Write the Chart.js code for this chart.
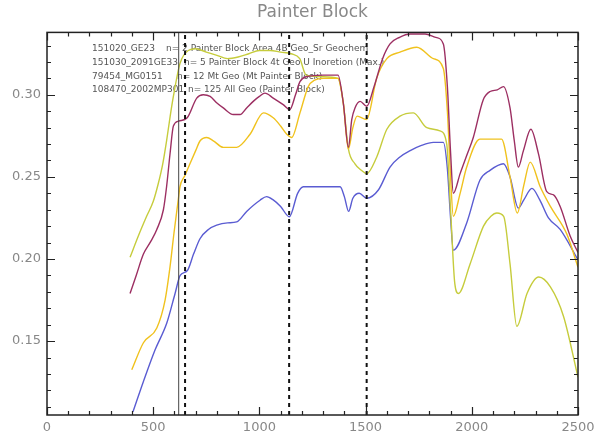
<!DOCTYPE html>
<html>
<head>
<meta charset="utf-8">
<title>Painter Block</title>
<script src="https://cdn.jsdelivr.net/npm/chart.js@4.4.1/dist/chart.umd.min.js"></script>
<style>
  html, body { margin: 0; padding: 0; background: #fff; }
  canvas { display: block; }
</style>
</head>
<body>
<canvas id="chart" width="600" height="439"></canvas>
<script>
// 軸
const xTicks = [0, 500, 1000, 1500, 2000, 2500];
const yTicks = [0.15, 0.20, 0.25, 0.30];
const xMin = 0, xMax = 2500;
const yMin = 0.105, yMax = 0.338;

// 縦線 (実線1本 + 破線3本)
const solidLines = [620];
const dashedLines = [650, 1140, 1505];

// 凡例テキスト
const legendIds = ["151020_GE23", "151030_2091GE33", "79454_MG0151", "108470_2002MP301"];
const legendNotes = [
  "n= 2 Painter Block Area 4B Geo_Sr Geochem",
  "n= 5 Painter Block 4t Geo U Inoretion (Max.)",
  "n= 12 Mt Geo (Mt Painter Block)",
  "n= 125 All Geo (Painter Block)"
];

// 系列: 赤紫
const maroonX = [391, 420, 454, 490, 517, 548, 563, 580, 595, 620, 660, 705, 736, 768, 800, 830, 877, 909, 940, 971, 1000, 1026, 1065, 1112, 1143, 1170, 1191, 1220, 1300, 1370, 1395, 1419, 1435, 1450, 1474, 1505, 1540, 1580, 1615, 1660, 1710, 1780, 1830, 1866, 1885, 1900, 1913, 1945, 1976, 2007, 2054, 2086, 2120, 2149, 2180, 2200, 2219, 2243, 2278, 2314, 2353, 2385, 2416, 2463, 2500];
const maroonY = [0.179, 0.190, 0.203, 0.211, 0.218, 0.230, 0.244, 0.265, 0.281, 0.284, 0.286, 0.298, 0.300, 0.299, 0.295, 0.292, 0.288, 0.288, 0.292, 0.296, 0.299, 0.301, 0.298, 0.294, 0.291, 0.300, 0.308, 0.311, 0.312, 0.312, 0.295, 0.268, 0.285, 0.292, 0.296, 0.293, 0.305, 0.322, 0.331, 0.335, 0.337, 0.337, 0.335, 0.331, 0.305, 0.265, 0.240, 0.252, 0.263, 0.274, 0.297, 0.302, 0.303, 0.305, 0.292, 0.272, 0.256, 0.266, 0.279, 0.264, 0.241, 0.239, 0.232, 0.214, 0.204];

// 系列: 黄緑
const greenX = [391, 430, 469, 500, 524, 545, 563, 580, 595, 626, 665, 700, 750, 800, 850, 900, 950, 1000, 1050, 1100, 1150, 1190, 1220, 1300, 1370, 1395, 1419, 1450, 1480, 1505, 1552, 1600, 1662, 1725, 1788, 1850, 1882, 1900, 1920, 1937, 1992, 2055, 2090, 2118, 2150, 2180, 2212, 2260, 2315, 2370, 2432, 2500];
const greenY = [0.201, 0.214, 0.226, 0.235, 0.246, 0.258, 0.272, 0.287, 0.299, 0.319, 0.327, 0.328, 0.326, 0.324, 0.322, 0.323, 0.325, 0.327, 0.327, 0.326, 0.325, 0.322, 0.312, 0.311, 0.310, 0.295, 0.267, 0.258, 0.254, 0.252, 0.262, 0.279, 0.287, 0.289, 0.280, 0.278, 0.270, 0.230, 0.185, 0.179, 0.197, 0.220, 0.226, 0.228, 0.226, 0.197, 0.159, 0.179, 0.189, 0.183, 0.165, 0.128];

// 系列: 金
const goldX = [399, 454, 517, 556, 579, 598, 618, 626, 650, 673, 700, 721, 752, 783, 830, 893, 956, 1019, 1065, 1100, 1129, 1152, 1191, 1230, 1260, 1300, 1370, 1395, 1419, 1440, 1460, 1505, 1552, 1600, 1662, 1741, 1819, 1866, 1885, 1900, 1913, 1945, 1976, 2038, 2086, 2140, 2180, 2214, 2245, 2275, 2322, 2370, 2448, 2500];
const goldY = [0.1325, 0.149, 0.158, 0.175, 0.195, 0.216, 0.236, 0.244, 0.251, 0.258, 0.266, 0.272, 0.274, 0.272, 0.268, 0.268, 0.276, 0.289, 0.286, 0.281, 0.276, 0.274, 0.289, 0.305, 0.309, 0.310, 0.310, 0.295, 0.267, 0.280, 0.287, 0.285, 0.310, 0.322, 0.326, 0.329, 0.322, 0.316, 0.290, 0.250, 0.226, 0.240, 0.256, 0.273, 0.273, 0.273, 0.250, 0.228, 0.245, 0.259, 0.244, 0.232, 0.215, 0.195];

// 系列: 青
const blueX = [405, 454, 509, 564, 603, 627, 661, 690, 721, 760, 799, 850, 893, 940, 1003, 1034, 1065, 1100, 1141, 1180, 1207, 1250, 1300, 1380, 1400, 1420, 1440, 1470, 1505, 1560, 1615, 1660, 1710, 1760, 1819, 1866, 1885, 1900, 1913, 1976, 2038, 2086, 2149, 2180, 2219, 2245, 2283, 2320, 2361, 2416, 2500];
const blueY = [0.107, 0.1254, 0.1447, 0.161, 0.179, 0.190, 0.193, 0.203, 0.2125, 0.218, 0.2206, 0.222, 0.2226, 0.229, 0.2358, 0.238, 0.236, 0.232, 0.2257, 0.240, 0.244, 0.244, 0.244, 0.244, 0.238, 0.229, 0.237, 0.240, 0.237, 0.242, 0.256, 0.262, 0.266, 0.269, 0.271, 0.271, 0.255, 0.225, 0.2054, 0.222, 0.248, 0.254, 0.258, 0.250, 0.231, 0.236, 0.243, 0.236, 0.225, 0.218, 0.1995];

const pts = (xs, ys) => xs.map((x, i) => ({ x, y: ys[i] }));

function curve(xs, ys, color) {
  return { data: pts(xs, ys), borderColor: color, borderWidth: 1.4, pointRadius: 0,
           cubicInterpolationMode: 'monotone', fill: false };
}
function vline(x, dashed) {
  return { data: [{ x, y: yMin }, { x, y: yMax }], borderColor: dashed ? '#111' : '#444',
           borderWidth: dashed ? 2 : 1, borderDash: dashed ? [4, 4] : [], pointRadius: 0 };
}

// 枠と内向き目盛り、凡例テキスト
const framePlugin = {
  id: 'frame',
  beforeDatasetsDraw(chart) {
    const ctx = chart.ctx;
    ctx.save();
    ctx.fillStyle = '#555';
    ctx.font = '9px "DejaVu Sans"';
    ctx.textBaseline = 'middle';
    const rows = [49, 63, 77, 90];
    const noteX = [166, 184, 177, 188];
    legendIds.forEach((id, i) => {
      ctx.fillText(id, 92, rows[i]);
      ctx.fillText(legendNotes[i], noteX[i], rows[i]);
    });
    ctx.restore();
  },
  afterDatasetsDraw(chart) {
    const { ctx, chartArea: a, scales: { x, y } } = chart;
    ctx.save();
    ctx.strokeStyle = '#222';
    ctx.lineWidth = 1.5;
    ctx.strokeRect(a.left, a.top, a.right - a.left, a.bottom - a.top);
    ctx.lineWidth = 1.2;
    ctx.beginPath();
    for (let v = xMin; v <= xMax; v += 100) {
      const px = Math.round(x.getPixelForValue(v)) + 0.5;
      const len = v % 500 === 0 ? 8 : 4;
      ctx.moveTo(px, a.bottom); ctx.lineTo(px, a.bottom - len);
      ctx.moveTo(px, a.top); ctx.lineTo(px, a.top + len);
    }
    for (let k = 11; k <= 33; k++) {
      const py = Math.round(y.getPixelForValue(k / 100)) + 0.5;
      const len = k % 5 === 0 ? 8 : 4;
      ctx.moveTo(a.left, py); ctx.lineTo(a.left + len, py);
      ctx.moveTo(a.right, py); ctx.lineTo(a.right - len, py);
    }
    ctx.stroke();
    ctx.restore();
  }
};

const tickFont = { family: 'DejaVu Sans', size: 13 };

new Chart(document.getElementById('chart'), {
  type: 'line',
  data: {
    datasets: [
      ...solidLines.map(v => vline(v, false)),
      ...dashedLines.map(v => vline(v, true)),
      curve(maroonX, maroonY, '#9c2f62'),
      curve(goldX, goldY, '#f0c21e'),
      curve(greenX, greenY, '#c6cc3c'),
      curve(blueX, blueY, '#5a5cd2')
    ]
  },
  options: {
    responsive: false,
    animation: false,
    layout: { padding: { left: 0, right: 22, top: 0, bottom: 0 } },
    plugins: {
      legend: { display: false },
      tooltip: { enabled: false },
      title: {
        display: true, text: 'Painter Block', fullSize: false, color: '#888',
        font: { family: 'DejaVu Sans', size: 17, weight: 'normal' },
        padding: { top: 2, bottom: 10 }
      }
    },
    scales: {
      x: {
        type: 'linear', min: xMin, max: xMax,
        afterBuildTicks: s => { s.ticks = xTicks.map(v => ({ value: v })); },
        afterFit: s => { s.height = 24; },
        grid: { display: false, drawTicks: false },
        border: { display: false },
        ticks: { color: '#888', font: tickFont, padding: 5, maxRotation: 0, autoSkip: false,
                 callback: v => String(v) }
      },
      y: {
        type: 'linear', min: yMin, max: yMax,
        afterBuildTicks: s => { s.ticks = yTicks.map(v => ({ value: v })); },
        afterFit: s => { s.width = 47; },
        grid: { display: false, drawTicks: false },
        border: { display: false },
        ticks: { color: '#888', font: tickFont, padding: 6, callback: v => v.toFixed(2) }
      }
    }
  },
  plugins: [framePlugin]
});
</script>
</body>
</html>
